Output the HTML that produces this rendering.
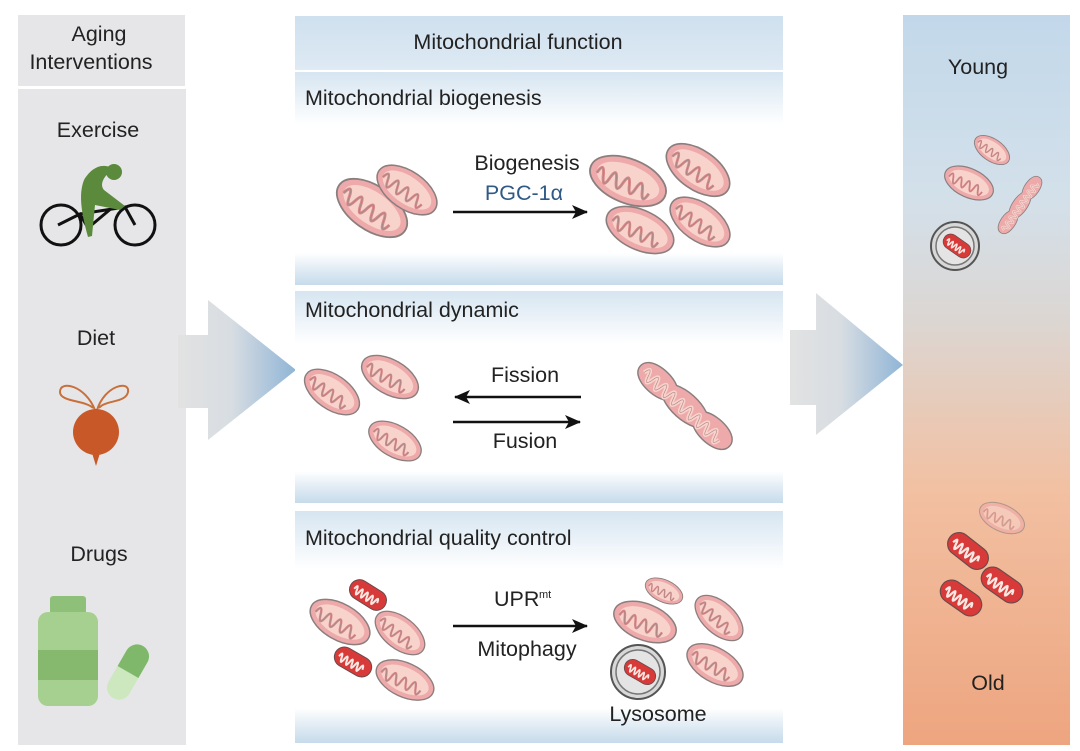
<!DOCTYPE html>
<html><head><meta charset="utf-8"><style>
body{margin:0;background:#fff;}
svg{display:block;font-family:"Liberation Sans",Arial,sans-serif;}
</style></head><body>
<svg width="1080" height="751" viewBox="0 0 1080 751" xmlns="http://www.w3.org/2000/svg">
<defs>
<linearGradient id="hdr" x1="0" y1="0" x2="0" y2="1"><stop offset="0" stop-color="#cfe0ee"/><stop offset="1" stop-color="#deeaf4"/></linearGradient>
<linearGradient id="pan" x1="0" y1="0" x2="0" y2="1"><stop offset="0" stop-color="#d6e5f1"/><stop offset="0.25" stop-color="#ffffff"/><stop offset="0.85" stop-color="#ffffff"/><stop offset="0.92" stop-color="#e3edf5"/><stop offset="1" stop-color="#c6dbeb"/></linearGradient>
<linearGradient id="rc" x1="0" y1="0" x2="0" y2="1"><stop offset="0" stop-color="#c2d8ea"/><stop offset="0.25" stop-color="#d3e0ea"/><stop offset="0.42" stop-color="#dcd6d2"/><stop offset="0.65" stop-color="#f2c0a2"/><stop offset="1" stop-color="#eda57f"/></linearGradient>
<linearGradient id="arr" x1="0" y1="0" x2="1" y2="0"><stop offset="0" stop-color="#e2e2e2"/><stop offset="0.45" stop-color="#d8dde2"/><stop offset="1" stop-color="#8fb5d6"/></linearGradient>
<symbol id="m" viewBox="-42 -24 84 48" overflow="visible">
<ellipse cx="0" cy="0" rx="40" ry="22" fill="#eeaaaa" stroke="#8a7e7e" stroke-width="1.8"/>
<ellipse cx="0" cy="0" rx="33" ry="16" fill="#f8d3cc"/>
<path d="M-32,4 q3,-14 7,0 t7,0 t7,0 t7,0 t7,0 t7,0 t7,0 t7,0" fill="none" stroke="#d88888" stroke-width="3"/>
<path d="M-32,4 q3,-14 7,0 t7,0 t7,0 t7,0 t7,0 t7,0 t7,0 t7,0" fill="none" stroke="#9a8a8a" stroke-width="0.8"/>
</symbol>
<symbol id="r" viewBox="-42 -24 84 48" overflow="visible">
<rect x="-40" y="-20" width="80" height="40" rx="20" fill="#d83a3a" stroke="#6a4a4a" stroke-width="2"/>
<path d="M-30,4 q3,-16 6,0 t6,0 t6,0 t6,0 t6,0 t6,0 t6,0 t6,0 t6,0" fill="none" stroke="#fbe8e2" stroke-width="4"/>
</symbol>
<symbol id="lm" viewBox="-80 -20 160 40" overflow="visible">
<path d="M-75,0 C-75,-18 -40,-20 -25,-12 C-10,-18 10,-18 25,-12 C40,-20 75,-18 75,0 C75,18 40,20 25,12 C10,18 -10,18 -25,12 C-40,20 -75,18 -75,0Z" fill="#eeaaaa" stroke="#8a7e7e" stroke-width="1.8"/>
<path d="M-66,3 q3,-14 7,0 t7,0 t7,0 t7,0 t7,0 t7,0 t7,0 t7,0 t7,0 t7,0 t7,0 t7,0 t7,0 t7,0 t7,0 t7,0 t7,0 t7,0" fill="none" stroke="#f8d3cc" stroke-width="5"/>
<path d="M-66,3 q3,-14 7,0 t7,0 t7,0 t7,0 t7,0 t7,0 t7,0 t7,0 t7,0 t7,0 t7,0 t7,0 t7,0 t7,0 t7,0 t7,0 t7,0 t7,0" fill="none" stroke="#b08888" stroke-width="0.8"/>
</symbol>
<marker id="ah" markerWidth="16" markerHeight="14" refX="15" refY="7" orient="auto" markerUnits="userSpaceOnUse"><path d="M0,0 L16,7 L0,14 L4,7Z" fill="#111"/></marker>
</defs>

<!-- left column -->
<rect x="18" y="15" width="167" height="71" fill="#e6e6e8"/>
<rect x="18" y="89" width="168" height="656" fill="#e6e6e8"/>
<g font-size="21.5" fill="#222" text-anchor="middle">
<text x="99" y="41">Aging</text>
<text x="91" y="69">Interventions</text>
<text x="98" y="137">Exercise</text>
<text x="96" y="345">Diet</text>
<text x="99" y="561">Drugs</text>
</g>
<!-- bike -->
<g fill="none" stroke="#111" stroke-width="3">
<circle cx="61" cy="225" r="20"/><circle cx="135" cy="225" r="20"/>
<path d="M58,225 L80,214 L88,228 M80,214 L125,207 L135,225 M88,228 L113,207"/>
</g>
<path d="M112,168 C100,162 90,170 84,180 C78,195 82,215 88,237 L92,236 L95,205 L120,210 L125,206 L104,190 C100,185 102,178 112,170Z" fill="#5b8a3c"/>
<circle cx="114" cy="172" r="8" fill="#5b8a3c"/>
<!-- beet -->
<g fill="none" stroke="#c8703c" stroke-width="2"><path d="M95,410 C85,385 60,380 60,392 C60,402 85,400 93,408"/><path d="M97,410 C105,385 130,380 128,392 C126,403 105,400 99,408"/></g>
<circle cx="96" cy="432" r="23" fill="#c85828"/>
<path d="M92,453 L96,466 L100,453Z" fill="#c85828"/>
<!-- drugs -->
<rect x="50" y="596" width="36" height="18" rx="3" fill="#8fc07a"/>
<rect x="38" y="612" width="60" height="94" rx="10" fill="#a6d08f"/>
<rect x="38" y="650" width="60" height="30" fill="#86b86e"/>
<g transform="translate(128,672) rotate(-60)"><rect x="-30" y="-12" width="60" height="24" rx="12" fill="#cde7bf"/><path d="M0,-12 H18 A12,12 0 0 1 18,12 H0Z" fill="#7fb86a"/></g>

<!-- arrows -->
<path d="M178,335 H208 V300 L296,370 L208,440 V408 H178Z" fill="url(#arr)"/>
<path d="M790,330 H816 V293 L903,365 L816,435 V405 H790Z" fill="url(#arr)"/>

<!-- middle -->
<rect x="295" y="16" width="488" height="54" fill="url(#hdr)"/>
<text x="518" y="49" font-size="21.5" text-anchor="middle" fill="#222">Mitochondrial function</text>
<rect x="295" y="72" width="488" height="213" fill="url(#pan)"/>
<rect x="295" y="291" width="488" height="212" fill="url(#pan)"/>
<rect x="295" y="511" width="488" height="232" fill="url(#pan)"/>
<g font-size="21.5" fill="#222">
<text x="305" y="105">Mitochondrial biogenesis</text>
<text x="305" y="317">Mitochondrial dynamic</text>
<text x="305" y="545">Mitochondrial quality control</text>
</g>
<g font-size="21.5" fill="#222" text-anchor="middle">
<text x="527" y="170">Biogenesis</text>
<text x="524" y="200" fill="#2f5a86">PGC-1α</text>
<text x="525" y="382">Fission</text>
<text x="525" y="448">Fusion</text>
<text x="527" y="656">Mitophagy</text>
<text x="658" y="721">Lysosome</text>
</g>
<line x1="453" y1="212" x2="587" y2="212" stroke="#111" stroke-width="2.5" marker-end="url(#ah)"/>
<line x1="581" y1="397" x2="455" y2="397" stroke="#111" stroke-width="2.5" marker-end="url(#ah)"/>
<line x1="453" y1="422" x2="580" y2="422" stroke="#111" stroke-width="2.5" marker-end="url(#ah)"/>
<text x="494" y="606" font-size="21.5" fill="#222">UPR</text><text x="539" y="598" font-size="11" fill="#222">mt</text>
<line x1="453" y1="626" x2="587" y2="626" stroke="#111" stroke-width="2.5" marker-end="url(#ah)"/>

<!-- panel1 mitos -->
<use href="#m" x="-42" y="-24" width="84" height="48" transform="translate(372,208) rotate(35) scale(1.0)"/>
<use href="#m" x="-42" y="-24" width="84" height="48" transform="translate(407,190) rotate(35) scale(0.85)"/>
<use href="#m" x="-42" y="-24" width="84" height="48" transform="translate(628,181) rotate(22) scale(1.0)"/>
<use href="#m" x="-42" y="-24" width="84" height="48" transform="translate(698,170) rotate(35) scale(0.9)"/>
<use href="#m" x="-42" y="-24" width="84" height="48" transform="translate(640,230) rotate(25) scale(0.9)"/>
<use href="#m" x="-42" y="-24" width="84" height="48" transform="translate(700,222) rotate(35) scale(0.85)"/>
<!-- panel2 -->
<use href="#m" x="-42" y="-24" width="84" height="48" transform="translate(332,392) rotate(35) scale(0.78)"/>
<use href="#m" x="-42" y="-24" width="84" height="48" transform="translate(390,377) rotate(30) scale(0.78)"/>
<use href="#m" x="-42" y="-24" width="84" height="48" transform="translate(395,441) rotate(30) scale(0.72)"/>
<use href="#lm" x="-80" y="-20" width="160" height="40" transform="translate(685,406) rotate(42) scale(0.8)"/>
<!-- panel3 -->
<use href="#m" x="-42" y="-24" width="84" height="48" transform="translate(340,622) rotate(30) scale(0.82)"/>
<use href="#m" x="-42" y="-24" width="84" height="48" transform="translate(400,633) rotate(38) scale(0.72)"/>
<use href="#m" x="-42" y="-24" width="84" height="48" transform="translate(405,680) rotate(25) scale(0.77)"/>
<use href="#r" x="-42" y="-24" width="84" height="48" transform="translate(368,595) rotate(32) scale(0.5)"/>
<use href="#r" x="-42" y="-24" width="84" height="48" transform="translate(353,662) rotate(30) scale(0.5)"/>
<use href="#m" x="-42" y="-24" width="84" height="48" transform="translate(664,591) rotate(25) scale(0.5)"/>
<use href="#m" x="-42" y="-24" width="84" height="48" transform="translate(645,622) rotate(22) scale(0.82)"/>
<use href="#m" x="-42" y="-24" width="84" height="48" transform="translate(719,618) rotate(42) scale(0.72)"/>
<use href="#m" x="-42" y="-24" width="84" height="48" transform="translate(715,665) rotate(30) scale(0.77)"/>
<circle cx="638" cy="672" r="27" fill="#d8d8d8" stroke="#555" stroke-width="2"/>
<circle cx="638" cy="672" r="22" fill="#e4e4e4" stroke="#777" stroke-width="1.5"/>
<use href="#r" x="-42" y="-24" width="84" height="48" transform="translate(640,672) rotate(30) scale(0.42)"/>

<!-- right column -->
<rect x="903" y="15" width="167" height="730" fill="url(#rc)"/>
<text x="978" y="74" font-size="21.5" text-anchor="middle" fill="#222">Young</text>
<text x="988" y="690" font-size="21.5" text-anchor="middle" fill="#222">Old</text>
<use href="#m" x="-42" y="-24" width="84" height="48" transform="translate(992,150) rotate(35) scale(0.5)"/>
<use href="#m" x="-42" y="-24" width="84" height="48" transform="translate(969,183) rotate(25) scale(0.65)"/>
<use href="#lm" x="-80" y="-20" width="160" height="40" transform="translate(1020,205) rotate(-55) scale(0.45)"/>
<circle cx="955" cy="246" r="24" fill="#d8d8d8" stroke="#555" stroke-width="2"/>
<circle cx="955" cy="246" r="19" fill="#e4e4e4" stroke="#777" stroke-width="1.5"/>
<use href="#r" x="-42" y="-24" width="84" height="48" transform="translate(957,246) rotate(35) scale(0.38)"/>
<use href="#m" x="-42" y="-24" width="84" height="48" transform="translate(1002,518) rotate(25) scale(0.6)" opacity="0.6"/>
<use href="#r" x="-42" y="-24" width="84" height="48" transform="translate(968,551) rotate(38) scale(0.57)"/>
<use href="#r" x="-42" y="-24" width="84" height="48" transform="translate(1002,585) rotate(35) scale(0.57)"/>
<use href="#r" x="-42" y="-24" width="84" height="48" transform="translate(961,598) rotate(35) scale(0.57)"/>
</svg>
</body></html>
